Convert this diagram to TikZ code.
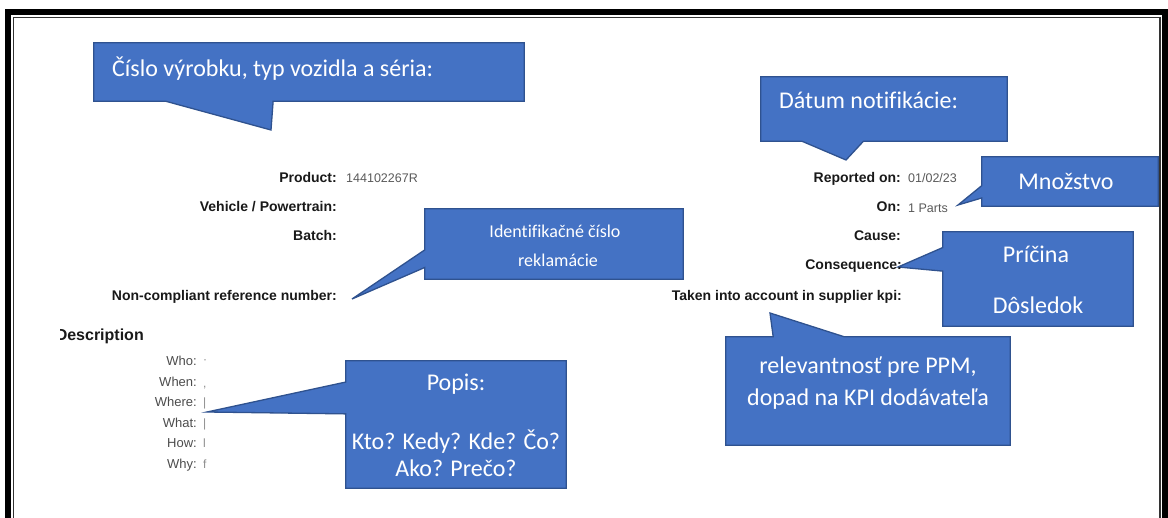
\documentclass[tikz,border=0pt]{standalone}
\usepackage{fontspec}
\setsansfont{Liberation Sans}
\newfontfamily\callfont[Ligatures=NoCommon]{Carlito}
\usepackage{tikz}
\usetikzlibrary{calc, backgrounds}

\definecolor{callblue}{HTML}{4472C4}
\definecolor{calledge}{HTML}{2F528F}

\begin{document}
\begin{tikzpicture}[x=1pt, y=-1pt,
    callbox/.style={rectangle, inner sep=0pt},
    bubble/.style={fill=callblue, draw=calledge, line width=1.3pt, line join=miter},
    calltext/.style={text=white, font=\callfont\fontsize{24}{29}\selectfont, inner sep=0pt},
    field/.style={font=\sffamily\bfseries\fontsize{14}{16}\selectfont, text=black!90, inner sep=0pt, anchor=mid east},
    value/.style={font=\sffamily\fontsize{12.5}{14}\selectfont, text=black!65, inner sep=0pt, anchor=mid west},
    question/.style={font=\sffamily\fontsize{13}{15}\selectfont, text=black!70, inner sep=0pt, anchor=mid east},
    blot/.style={font=\sffamily\fontsize{12}{14}\selectfont, text=black!45, inner sep=0pt, anchor=mid west}
]
    \useasboundingbox (0,0) rectangle (1168,518);

    % page frame
    \draw[line width=6pt] (8,522) -- (8,12) -- (1165,12) -- (1165,522);
    \draw[line width=1.5pt, black!80] (13.5,522) -- (13.5,17.5) -- (1160,17.5) -- (1160,522);

    % form fields
    \node[field] (product) at (337,180) {Product:};
    \node[value] (productval) at (346,180) {144102267R};
    \node[field] (vehicle) at (337,209) {Vehicle / Powertrain:};
    \node[field] (batch) at (337,238) {Batch:};
    \node[field] (ncref) at (337,298) {Non-compliant reference number:};

    \node[field] (reported) at (901,180) {Reported on:};
    \node[value] (reportedval) at (908,180) {01/02/23};
    \node[field] (qty) at (901,209) {On:};
    \node[value] (qtyval) at (908,210) {1 Parts};
    \node[field] (cause) at (901,238) {Cause:};
    \node[field] (conseq) at (902,267) {Consequence:};
    \node[field] (kpi) at (902,298) {Taken into account in supplier kpi:};

    \begin{scope}
        \clip (60,320) rectangle (200,356);
        \node[font=\sffamily\bfseries\fontsize{16}{18}\selectfont, text=black!90, inner sep=0pt, anchor=mid east] (descr) at (144,338) {Description};
    \end{scope}

    \node[question] (who) at (197,363) {Who:};
    \node[question] (when) at (197,384) {When:};
    \node[question] (where) at (197,404) {Where:};
    \node[question] (what) at (197,425) {What:};
    \node[question] (how) at (197,445) {How:};
    \node[question] (why) at (197,466) {Why:};
    \node[blot] (whoval) at (203,361) {·};
    \node[blot] (whenval) at (203,385) {,};
    \node[blot] (whereval) at (203,404) {|};
    \node[blot] (whatval) at (203,425) {|};
    \node[blot] (howval) at (203,445) {l};
    \node[blot] (whyval) at (203,466) {f};

    % callouts: box, text, tip
    \node[callbox, minimum width=430, minimum height=58] (nrbox) at (309,72) {};
    \node[calltext, anchor=base west] (nrtext) at (112,77) {Číslo výrobku, typ vozidla a séria:};
    \coordinate (nrtip) at (271,130);

    \node[callbox, minimum width=246, minimum height=64] (datebox) at (884,109) {};
    \node[calltext, anchor=base west] (datetext) at (779,109) {Dátum notifikácie:};
    \coordinate (datetip) at (846,160);

    \node[callbox, minimum width=176, minimum height=49] (qtybox) at (1070,181.5) {};
    \node[calltext, anchor=base] (qtytext) at (1066,190) {Množstvo};
    \coordinate (qtytip) at (958,205);

    \node[callbox, minimum width=258, minimum height=70] (idbox) at (554,244) {};
    \node[calltext, anchor=base, font=\callfont\fontsize{18}{22}\selectfont] (idtext1) at (555,238) {Identifikačné číslo};
    \node[calltext, anchor=base, font=\callfont\fontsize{18}{22}\selectfont] (idtext2) at (558,267) {reklamácie};
    \coordinate (idtip) at (352,299);

    \node[callbox, minimum width=190, minimum height=94] (causebox) at (1038,279) {};
    \node[calltext, anchor=base] (causetext1) at (1036,263) {Príčina};
    \node[calltext, anchor=base] (causetext2) at (1038,314) {Dôsledok};
    \coordinate (causetip) at (898,267);

    \node[callbox, minimum width=284, minimum height=108] (relbox) at (868,391) {};
    \node[calltext, anchor=base] (reltext1) at (868,374) {relevantnosť pre PPM,};
    \node[calltext, anchor=base] (reltext2) at (868,406) {dopad na KPI dodávateľa};
    \coordinate (reltip) at (770,313);

    \node[callbox, minimum width=220, minimum height=127] (popbox) at (456,424.5) {};
    \node[calltext, anchor=base] (poptext1) at (456,391) {Popis:};
    \node[calltext, anchor=base] (poptext2) at (456,450) {Kto? Kedy? Kde? Čo?};
    \node[calltext, anchor=base] (poptext3) at (456,477) {Ako? Prečo?};
    \coordinate (poptip) at (207,412);

    \begin{scope}[on background layer]
        \draw[bubble] (nrbox.north west) -- (nrbox.north east) -- (nrbox.south east)
            -- ($(nrbox.south west)!5/12!(nrbox.south east)$) -- (nrtip)
            -- ($(nrbox.south west)!2/12!(nrbox.south east)$) -- (nrbox.south west) -- cycle;
        \draw[bubble] (datebox.north west) -- (datebox.north east) -- (datebox.south east)
            -- ($(datebox.south west)!5/12!(datebox.south east)$) -- (datetip)
            -- ($(datebox.south west)!2/12!(datebox.south east)$) -- (datebox.south west) -- cycle;
        \draw[bubble] (qtybox.north west) -- (qtybox.north east) -- (qtybox.south east) -- (qtybox.south west)
            -- ($(qtybox.north west)!10/12!(qtybox.south west)$) -- (qtytip)
            -- ($(qtybox.north west)!7/12!(qtybox.south west)$) -- cycle;
        \draw[bubble] (idbox.north west) -- (idbox.north east) -- (idbox.south east) -- (idbox.south west)
            -- ($(idbox.north west)!10/12!(idbox.south west)$) -- (idtip)
            -- ($(idbox.north west)!7/12!(idbox.south west)$) -- cycle;
        \draw[bubble] (causebox.north west) -- (causebox.north east) -- (causebox.south east) -- (causebox.south west)
            -- ($(causebox.north west)!5/12!(causebox.south west)$) -- (causetip)
            -- ($(causebox.north west)!2/12!(causebox.south west)$) -- cycle;
        \draw[bubble] (relbox.north west) -- ($(relbox.north west)!2/12!(relbox.north east)$) -- (reltip)
            -- ($(relbox.north west)!5/12!(relbox.north east)$) -- (relbox.north east)
            -- (relbox.south east) -- (relbox.south west) -- cycle;
        \draw[bubble] (popbox.north west) -- (popbox.north east) -- (popbox.south east) -- (popbox.south west)
            -- ($(popbox.north west)!5/12!(popbox.south west)$) -- (poptip)
            -- ($(popbox.north west)!2/12!(popbox.south west)$) -- cycle;
    \end{scope}
\end{tikzpicture}
\end{document}
